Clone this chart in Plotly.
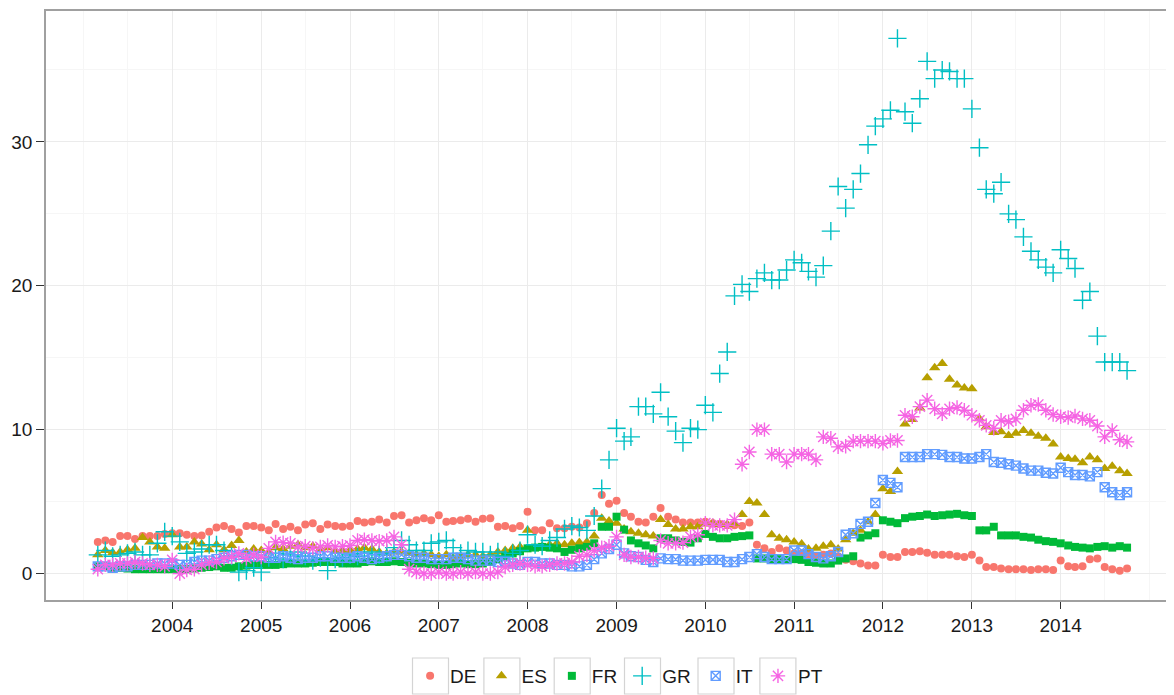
import pandas as pd
import plotly.graph_objects as go

# monthly observations, March 2003 - October 2014
dates = pd.date_range("2003-03-01", periods=140, freq="MS")

countries = ["DE", "ES", "FR", "GR", "IT", "PT"]

de = [2.2, 2.3, 2.2, 2.6, 2.6, 2.4, 2.6, 2.6, 2.6, 2.75,
      2.8, 2.8, 2.7, 2.6, 2.65, 2.9, 3.2, 3.3, 3.1, 2.85, 3.3, 3.3,
      3.2, 3.0, 3.45, 3.1, 3.25, 3.0, 3.4, 3.5, 3.1, 3.4, 3.3, 3.25,
      3.3, 3.65, 3.55, 3.6, 3.75, 3.55, 4.0, 4.05, 3.55, 3.7, 3.85, 3.7,
      4.05, 3.6, 3.65, 3.7, 3.8, 3.6, 3.8, 3.85, 3.25, 3.3, 3.15, 3.3,
      4.3, 3.0, 3.0, 3.5, 3.15, 3.15, 3.25, 3.2, 3.5, 4.2, 5.45, 4.85,
      5.05, 4.2, 3.95, 3.6, 3.55, 3.95, 4.55, 3.95, 3.75, 3.55, 3.55, 3.55,
      3.6, 3.5, 3.45, 3.35, 3.35, 3.3, 3.55, 2.0, 1.75, 1.5, 1.75, 1.6,
      1.4, 1.4, 1.3, 1.2, 1.3, 1.4, 1.2, 0.95, 0.85, 0.7, 0.55, 0.55,
      1.3, 1.15, 1.15, 1.5, 1.5, 1.55, 1.45, 1.3, 1.3, 1.3, 1.2, 1.15,
      1.3, 0.9, 0.45, 0.45, 0.35, 0.3, 0.3, 0.3, 0.25, 0.3, 0.3, 0.25,
      0.9, 0.5, 0.45, 0.5, 1.0, 1.05, 0.45, 0.3, 0.2, 0.35]

es = [1.3, 1.6, 1.45, 1.5, 1.65, 1.75, 2.5, 2.2, 1.85, 1.75,
      2.7, 1.85, 1.85, 2.2, 2.05, 1.65, 2.0, 1.65, 1.95, 2.3, 1.5, 1.7,
      1.6, 1.5, 1.8, 1.7, 1.9, 2.0, 1.8, 1.9, 1.7, 1.8, 1.6, 1.6,
      1.6, 1.7, 1.8, 1.7, 1.5, 1.4, 1.5, 1.5, 1.4, 1.3, 1.4, 1.3,
      1.2, 1.3, 1.1, 1.2, 1.3, 1.3, 1.2, 1.3, 1.5, 1.6, 1.75, 1.85,
      3.0, 1.8, 1.9, 2.0, 2.1, 2.0, 2.1, 2.15, 2.2, 2.6, 3.85, 3.65,
      3.5, 3.1, 2.9, 2.8, 2.7, 2.6, 3.75, 3.4, 3.1, 3.1, 3.25, 3.25,
      3.45, 3.5, 3.4, 3.4, 3.5, 4.1, 5.0, 4.9, 4.1, 2.7, 2.45, 2.35,
      2.2, 2.05, 1.7, 1.75, 1.9, 2.0, 1.7, 2.35, 2.8, 3.0, 3.6, 4.1,
      5.9, 5.7, 7.1, 10.4, 10.7, 11.5, 13.6, 14.3, 14.6, 13.5, 13.1, 12.9,
      12.85, 10.75, 10.2, 9.8, 9.85, 9.6, 9.75, 9.95, 9.75, 9.55, 9.4, 9.0,
      8.1, 8.0, 7.95, 7.7, 8.1, 7.9, 7.3, 7.45, 7.15, 6.95]

fr = [0.5, 0.5, 0.4, 0.4, 0.35, 0.3, 0.3, 0.3, 0.3, 0.3,
      0.3, 0.3, 0.3, 0.35, 0.4, 0.45, 0.5, 0.4, 0.4, 0.5, 0.55, 0.6,
      0.6, 0.6, 0.6, 0.65, 0.7, 0.7, 0.7, 0.75, 0.8, 0.8, 0.8, 0.7,
      0.7, 0.7, 0.8, 0.85, 0.8, 0.8, 0.85, 0.8, 0.75, 0.7, 0.7, 0.65,
      0.6, 0.6, 0.65, 0.7, 0.65, 0.65, 0.7, 0.8, 1.0, 1.2, 1.4, 1.55,
      1.75, 1.8, 1.85, 1.8, 1.75, 1.5, 1.65, 1.75, 1.85, 2.1, 3.25, 3.25,
      3.95, 3.05, 2.3, 2.1, 1.95, 1.75, 2.45, 2.45, 2.3, 2.2, 2.15, 2.45,
      2.75, 2.55, 2.45, 2.45, 2.55, 2.6, 2.65, 1.05, 1.05, 1.0, 1.0, 0.95,
      1.0, 0.95, 0.8, 0.75, 0.7, 0.7, 0.9, 1.05, 1.2, 2.5, 2.65, 2.8,
      3.7, 3.6, 3.5, 3.85, 3.95, 4.0, 4.1, 4.0, 4.05, 4.1, 4.15, 4.05,
      4.0, 3.0, 3.0, 3.25, 2.65, 2.65, 2.65, 2.55, 2.5, 2.35, 2.25, 2.2,
      2.1, 1.95, 1.85, 1.8, 1.75, 1.85, 1.9, 1.8, 1.9, 1.8]

gr = [1.3, 1.6, 1.2, 1.3, 1.4, 1.5, 1.3, 1.3, 2.1, 2.9,
      2.6, 2.2, 1.4, 1.5, 1.7, 2.0, 2.0, 1.6, 1.2, 0.1, 0.2, 0.4,
      0.1, 1.1, 1.4, 1.0, 1.3, 1.5, 1.2, 0.9, 1.1, 0.2, 1.0, 1.1,
      1.3, 1.2, 1.4, 1.5, 1.3, 1.4, 1.8, 2.3, 2.0, 1.6, 1.6, 2.1,
      2.2, 2.3, 1.8, 1.4, 1.6, 1.5, 1.5, 1.3, 1.5, 1.2, 1.4, 1.6,
      2.7, 2.0, 1.9, 2.3, 2.5, 3.1, 3.3, 3.2, 3.0, 4.0, 5.9, 7.9,
      10.1, 9.2, 9.5, 11.6, 11.6, 11.1, 12.6, 10.9, 9.9, 9.1, 10.1, 10.0,
      11.7, 11.2, 13.9, 15.4, 19.3, 20.1, 19.6, 20.5, 20.9, 20.4, 20.4, 21.1,
      21.8, 21.6, 21.0, 20.6, 21.4, 23.8, 26.9, 25.4, 26.7, 27.8, 29.8, 31.1,
      31.6, 32.2, 37.2, 32.1, 31.3, 33.0, 35.6, 34.4, 35.0, 34.9, 34.4, 34.4,
      32.3, 29.6, 26.7, 26.4, 27.2, 25.0, 24.6, 23.4, 22.4, 21.8, 21.3, 20.9,
      22.5, 21.9, 21.2, 19.0, 19.6, 16.5, 14.7, 14.7, 14.7, 14.1]

it = [0.5, 0.5, 0.4, 0.5, 0.5, 0.6, 0.6, 0.6, 0.7, 0.7,
      0.7, 0.6, 0.6, 0.8, 0.9, 0.9, 1.0, 1.1, 1.2, 1.3, 1.3, 1.2,
      1.2, 1.1, 1.1, 1.2, 1.1, 1.0, 1.1, 1.1, 1.2, 1.2, 1.1, 1.1,
      1.1, 1.2, 1.1, 1.0, 1.1, 1.2, 1.3, 1.3, 1.2, 1.1, 1.1, 1.0,
      1.0, 1.0, 1.1, 1.1, 1.0, 0.9, 0.9, 0.9, 0.8, 0.8, 0.7, 0.6,
      0.8, 0.8, 0.7, 0.7, 0.6, 0.6, 0.5, 0.5, 0.6, 1.0, 1.4, 1.7,
      2.0, 1.4, 1.2, 1.15, 0.95, 0.8, 1.05, 1.0, 1.0, 0.9, 0.9, 0.9,
      0.95, 0.95, 0.95, 0.8, 0.8, 1.0, 1.15, 1.35, 1.15, 1.0, 1.0, 1.0,
      1.6, 1.6, 1.35, 1.15, 1.05, 1.2, 1.5, 2.7, 2.8, 3.45, 3.6, 4.9,
      6.5, 6.3, 6.0, 8.1, 8.1, 8.1, 8.3, 8.3, 8.25, 8.1, 8.1, 8.0,
      8.0, 8.1, 8.3, 7.75, 7.7, 7.6, 7.5, 7.3, 7.15, 7.15, 7.0, 6.95,
      7.35, 7.05, 6.85, 6.85, 6.75, 7.05, 6.0, 5.65, 5.45, 5.65]

pt = [0.3, 0.6, 0.6, 0.7, 0.7, 0.8, 0.7, 0.6, 0.6, 0.5,
      0.95, 0.0, 0.25, 0.3, 0.6, 0.75, 0.8, 1.05, 1.15, 1.4, 1.05, 1.3,
      1.15, 1.75, 2.2, 2.15, 2.1, 1.85, 1.9, 1.75, 1.85, 1.95, 1.85, 1.9,
      1.95, 2.3, 2.35, 2.3, 2.25, 2.3, 2.55, 2.0, 0.3, 0.1, 0.0, 0.0,
      0.1, 0.0, 0.0, 0.1, 0.0, 0.1, 0.0, 0.0, 0.1, 0.45, 0.6, 0.7,
      0.6, 0.5, 0.5, 0.6, 0.7, 0.7, 0.8, 1.2, 1.3, 1.6, 1.8, 1.9,
      2.55, 1.3, 1.15, 1.15, 1.1, 1.05, 2.3, 2.1, 2.1, 2.15, 2.55, 2.7,
      3.5, 3.35, 3.35, 3.35, 3.75, 7.6, 8.45, 10.0, 10.0, 8.3, 8.3, 7.75,
      8.3, 8.3, 8.3, 7.9, 9.5, 9.4, 8.8, 8.85, 9.2, 9.2, 9.2, 9.2,
      9.05, 9.25, 9.25, 11.0, 10.9, 11.6, 12.05, 11.45, 11.1, 11.45, 11.55, 11.35,
      11.0, 10.65, 10.3, 10.1, 10.65, 10.55, 10.75, 11.35, 11.7, 11.75, 11.35, 11.05,
      10.9, 10.85, 10.95, 10.75, 10.65, 10.25, 9.5, 9.95, 9.3, 9.15]

year_ticks = [str(y) for y in range(2004, 2015)]

series = [de, es, fr, gr, it, pt]
colors = ["#F8766D", "#B79F00", "#00BA38", "#00BFC4", "#619CFF", "#F564E3"]
symbols = ["circle", "triangle-up", "square", "cross-thin-open", "square-x-open", "asterisk-open"]
sizes = [8, 10, 8, 13, 9, 12]

fig = go.Figure()

for name, vals, col, sym, sz in zip(countries, series, colors, symbols, sizes):
    fig.add_trace(go.Scatter(
        x=dates, y=vals, name=name, mode="markers",
        marker=dict(symbol=sym, size=sz, color=col,
                    line=dict(color=col, width=1.4 if sym.endswith("open") else 0)),
    ))

font_fam = "Arial, Liberation Sans, sans-serif"

# the page body adds an 8px offset, so the figure is drawn 8px smaller
W, H = 1166, 687
ml, mt, mb = 38, 3, 95
plot_w = W - ml
plot_h = H - mt - mb

# grey boxes behind the legend keys (ggplot style key backgrounds)
key_centres = [422.5, 493.9, 564.2, 634.5, 708.0, 769.9]   # in figure px
key_y = 668
for cx in key_centres:
    fig.add_shape(
        type="rect", xref="paper", yref="paper",
        xsizemode="pixel", ysizemode="pixel",
        xanchor=(cx - ml) / plot_w, yanchor=(H - mb - key_y) / plot_h,
        x0=-18, x1=18, y0=-18, y1=18,
        line=dict(color="#D4D4D4", width=1.2), fillcolor="rgba(0,0,0,0)",
        layer="below",
    )

fig.update_layout(
    width=W, height=H,
    paper_bgcolor="white", plot_bgcolor="white",
    font=dict(family=font_fam, size=19, color="#1a1a1a"),
    margin=dict(l=ml, r=0, t=mt, b=mb, autoexpand=False),
    showlegend=True,
    legend=dict(
        orientation="h",
        xref="container", yref="container",
        x=0.5241, y=(H - key_y) / H, xanchor="center", yanchor="middle",
        font=dict(family=font_fam, size=19, color="#1a1a1a"),
        itemclick=False, bgcolor="rgba(0,0,0,0)",
    ),
    xaxis=dict(
        type="date", automargin=False,
        range=["2002-07-31", "2015-04-12"],
        tickvals=[y + "-01-01" for y in year_ticks],
        ticktext=year_ticks,
        showgrid=True, gridcolor="#EBEBEB", gridwidth=1,
        minor=dict(dtick="M6", tick0="2003-01-01", showgrid=True,
                   gridcolor="#F6F6F6", gridwidth=1),
        ticks="outside", ticklen=7, tickcolor="#333333", tickwidth=1,
        showline=True, linecolor="#A0A0A0", linewidth=1.5, mirror=True,
        zeroline=False,
        tickfont=dict(size=19, color="#1a1a1a"),
    ),
    yaxis=dict(
        automargin=False,
        range=[-1.84, 39.1],
        tickvals=[0, 10, 20, 30],
        showgrid=True, gridcolor="#EBEBEB", gridwidth=1,
        minor=dict(tickvals=[5, 15, 25, 35], showgrid=True,
                   gridcolor="#F6F6F6", gridwidth=1),
        ticks="outside", ticklen=8, tickcolor="#333333", tickwidth=1,
        showline=True, linecolor="#A0A0A0", linewidth=1.5, mirror=False,
        zeroline=False,
        tickfont=dict(size=19, color="#1a1a1a"),
    ),
)

fig.write_html("out.html")
